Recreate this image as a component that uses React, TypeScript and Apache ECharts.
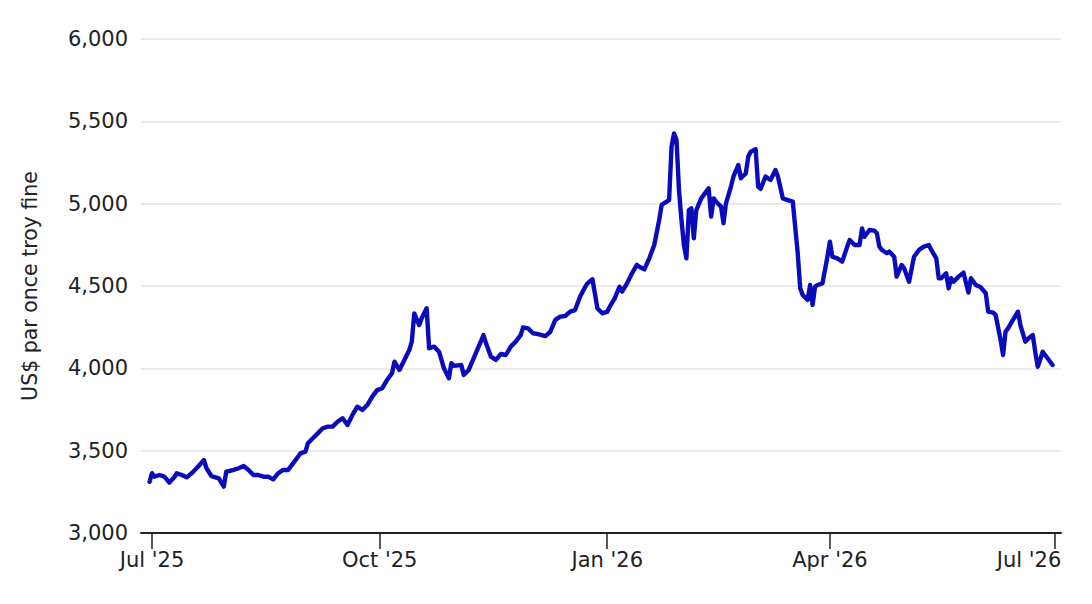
import React, { useEffect, useRef } from "react";
import * as echarts from "echarts";

const dates: string[] = [
  "2025-06-30","2025-07-01","2025-07-02","2025-07-04","2025-07-06","2025-07-08","2025-07-10","2025-07-11","2025-07-13","2025-07-15",
  "2025-07-17","2025-07-19","2025-07-22","2025-07-23","2025-07-25","2025-07-28","2025-07-30","2025-07-31","2025-08-03","2025-08-05",
  "2025-08-07","2025-08-09","2025-08-11","2025-08-13","2025-08-15","2025-08-17","2025-08-19","2025-08-21","2025-08-23","2025-08-25",
  "2025-08-27","2025-08-29","2025-08-30","2025-09-01","2025-09-02","2025-09-04","2025-09-06","2025-09-08","2025-09-10","2025-09-12",
  "2025-09-14","2025-09-16","2025-09-18","2025-09-20","2025-09-22","2025-09-24","2025-09-26","2025-09-28","2025-09-30","2025-10-02",
  "2025-10-04","2025-10-06","2025-10-07","2025-10-09","2025-10-11","2025-10-13","2025-10-14","2025-10-15","2025-10-17","2025-10-18",
  "2025-10-20","2025-10-21","2025-10-23","2025-10-25","2025-10-27","2025-10-29","2025-10-30","2025-10-31","2025-11-03","2025-11-04",
  "2025-11-06","2025-11-08","2025-11-10","2025-11-12","2025-11-13","2025-11-15","2025-11-17","2025-11-19","2025-11-21","2025-11-23",
  "2025-11-25","2025-11-27","2025-11-28","2025-11-30","2025-12-02","2025-12-04","2025-12-07","2025-12-09","2025-12-11","2025-12-13",
  "2025-12-15","2025-12-17","2025-12-19","2025-12-21","2025-12-23","2025-12-24","2025-12-26","2025-12-27","2025-12-28","2025-12-30",
  "2026-01-01","2026-01-02","2026-01-04","2026-01-06","2026-01-07","2026-01-09","2026-01-11","2026-01-13","2026-01-14","2026-01-16",
  "2026-01-18","2026-01-20","2026-01-22","2026-01-23","2026-01-25","2026-01-26","2026-01-27","2026-01-28","2026-01-29","2026-01-30",
  "2026-01-31","2026-02-01","2026-02-02","2026-02-03","2026-02-04","2026-02-05","2026-02-06","2026-02-08","2026-02-10","2026-02-11",
  "2026-02-12","2026-02-13","2026-02-14","2026-02-16","2026-02-17","2026-02-18","2026-02-20","2026-02-21","2026-02-23","2026-02-24",
  "2026-02-26","2026-02-27","2026-02-28","2026-03-02","2026-03-03","2026-03-04","2026-03-06","2026-03-07","2026-03-08","2026-03-10",
  "2026-03-11","2026-03-13","2026-03-15","2026-03-17","2026-03-19","2026-03-20","2026-03-21","2026-03-23","2026-03-24","2026-03-25",
  "2026-03-26","2026-03-27","2026-03-29","2026-03-31","2026-04-01","2026-04-02","2026-04-04","2026-04-06","2026-04-08","2026-04-09",
  "2026-04-11","2026-04-13","2026-04-14","2026-04-15","2026-04-17","2026-04-19","2026-04-20","2026-04-21","2026-04-22","2026-04-24",
  "2026-04-25","2026-04-27","2026-04-28","2026-04-30","2026-05-01","2026-05-03","2026-05-05","2026-05-07","2026-05-09","2026-05-11",
  "2026-05-12","2026-05-14","2026-05-15","2026-05-16","2026-05-18","2026-05-19","2026-05-20","2026-05-21","2026-05-23","2026-05-25",
  "2026-05-27","2026-05-28","2026-05-30","2026-06-01","2026-06-03","2026-06-04","2026-06-06","2026-06-07","2026-06-09","2026-06-10",
  "2026-06-11","2026-06-12","2026-06-14","2026-06-16","2026-06-17","2026-06-19","2026-06-21","2026-06-22","2026-06-23","2026-06-24",
  "2026-06-25","2026-06-26","2026-06-28","2026-06-30",
];

const prices: number[] = [
  3311,3363,3342,3352,3342,3306,3338,3363,3352,3338,
  3363,3393,3443,3393,3346,3332,3281,3372,3383,3393,
  3407,3383,3352,3352,3342,3342,3326,3363,3383,3383,
  3423,3463,3484,3494,3545,3575,3605,3636,3646,3646,
  3676,3697,3656,3717,3767,3747,3777,3828,3868,3879,
  3929,3970,4040,3990,4051,4111,4162,4334,4263,4304,
  4365,4122,4132,4101,4000,3940,4031,4015,4020,3960,
  3990,4061,4132,4202,4152,4071,4051,4087,4081,4132,
  4162,4202,4249,4243,4213,4208,4196,4222,4294,4314,
  4318,4344,4354,4435,4492,4516,4541,4456,4365,4334,
  4344,4374,4425,4496,4466,4516,4577,4628,4617,4601,
  4668,4749,4901,4993,5012,5022,5346,5427,5387,5083,
  4901,4749,4668,4961,4971,4789,4961,5032,5073,5093,
  4921,5032,5012,4982,4881,5002,5103,5164,5235,5154,
  5184,5285,5316,5330,5103,5090,5165,5154,5144,5204,
  5164,5032,5022,5012,4699,4486,4445,4415,4506,4385,
  4496,4506,4516,4678,4769,4678,4668,4648,4739,4779,
  4749,4749,4850,4799,4840,4836,4820,4739,4719,4699,
  4709,4678,4557,4628,4608,4526,4678,4719,4739,4749,
  4719,4668,4547,4547,4577,4486,4547,4526,4557,4581,
  4460,4547,4506,4492,4456,4344,4338,4324,4172,4081,
  4223,4243,4294,4344,4263,4162,4192,4202,4101,4010,
  4051,4101,4061,4020,
];

const xTickDates: string[] = ["2025-07-01", "2025-10-01", "2026-01-01", "2026-04-01", "2026-07-01"];
const xTickLabels: string[] = ["Jul '25", "Oct '25", "Jan '26", "Apr '26", "Jul '26"];

const yAxisTitle = "US$ par once troy fine";
const yMin = 3000;
const yMax = 6000;
const yStep = 500;

function utc(s: string): number {
  const [y, m, d] = s.split("-").map(Number);
  return Date.UTC(y, m - 1, d);
}

export default function App() {
  const ref = useRef<HTMLDivElement>(null);

  useEffect(() => {
    if (!ref.current) return;
    const chart = echarts.init(ref.current, undefined, { renderer: "svg" });
    const tickTs = xTickDates.map(utc);
    const font = "DejaVu Sans";
    const lastIdx = xTickLabels.length - 1;
    chart.setOption({
      animation: false,
      backgroundColor: "#ffffff",
      grid: { left: 141, right: 31, top: 39, bottom: 71, containLabel: false },
      xAxis: {
        type: "value",
        min: Date.UTC(2025, 5, 26, 13),
        max: Date.UTC(2026, 6, 3, 10),
        axisLine: { show: true, lineStyle: { color: "#222", width: 2 } },
        axisTick: { show: true, customValues: tickTs, length: 16, lineStyle: { color: "#222", width: 1.5 } },
        axisLabel: {
          customValues: tickTs,
          margin: 16,
          color: "#222",
          fontFamily: font,
          fontSize: 21,
          formatter: (v: number) => {
            let best = 0;
            let bd = Infinity;
            tickTs.forEach((t, i) => {
              const dd = Math.abs(t - v);
              if (dd < bd) { bd = dd; best = i; }
            });
            return best === lastIdx ? `{last|${xTickLabels[best]}}` : xTickLabels[best];
          },
          rich: {
            last: { color: "#222", fontFamily: font, fontSize: 21, padding: [0, 52, 0, 0] },
          },
        },
        splitLine: { show: false },
      },
      yAxis: {
        type: "value",
        min: yMin,
        max: yMax,
        interval: yStep,
        name: yAxisTitle,
        nameLocation: "middle",
        nameGap: 101,
        nameTextStyle: { color: "#222", fontFamily: font, fontSize: 20.5 },
        axisLine: { show: false },
        axisTick: { show: false },
        axisLabel: {
          margin: 13,
          color: "#222",
          fontFamily: font,
          fontSize: 21,
          formatter: (v: number) => v.toLocaleString("en-US"),
        },
        splitLine: { show: true, lineStyle: { color: "#e2e2e2", width: 1.5 } },
      },
      series: [
        {
          type: "line",
          data: dates.map((d, i) => [utc(d), prices[i]]),
          showSymbol: false,
          symbol: "none",
          lineStyle: { color: "#0a0cbc", width: 4.4, join: "round", cap: "round" },
          z: 3,
        },
      ],
    });
    return () => chart.dispose();
  }, []);

  return (
    <div
      ref={ref}
      style={{ position: "fixed", left: 0, top: 0, width: 1092, height: 604, background: "#fff" }}
    />
  );
}
